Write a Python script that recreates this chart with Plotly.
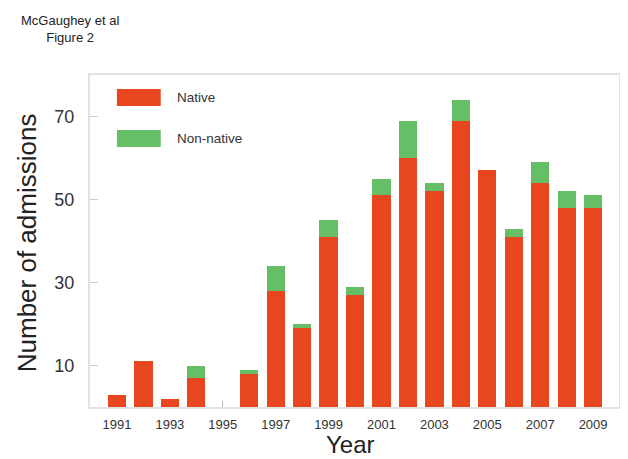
import plotly.graph_objects as go

years = list(range(1991, 2010))
native = [3, 11, 2, 7, 0, 8, 28, 19, 41, 27, 51, 60, 52, 69, 57, 41, 54, 48, 48]
non_native = [0, 0, 0, 3, 0, 1, 6, 1, 4, 2, 4, 9, 2, 5, 0, 2, 5, 4, 3]
y_ticks = [10, 30, 50, 70]
x_ticks = [1991, 1993, 1995, 1997, 1999, 2001, 2003, 2005, 2007, 2009]

RED = "#E8461F"
GREEN = "#66BF66"
FONT = "Liberation Sans, Arial, Helvetica, sans-serif"

# plot area in page pixels (page has an 8px body margin)
PL, PT, PR, PB = 90, 75, 621, 407
PW, PH = PR - PL, PB - PT

def px(x):
    return (x - PL) / PW

def py(y):
    return (PB - y) / PH

fig = go.Figure()
fig.add_trace(go.Bar(x=years, y=native, name="Native", marker=dict(color=RED, line=dict(width=0))))
fig.add_trace(go.Bar(x=years, y=non_native, name="Non-native", marker=dict(color=GREEN, line=dict(width=0))))

fig.update_layout(
    width=620, height=451,
    margin=dict(l=PL - 8, r=620 - (PR - 8), t=PT - 8, b=451 - (PB - 8)),
    barmode="stack", bargap=0.31,
    showlegend=False,
    paper_bgcolor="white", plot_bgcolor="white",
    font=dict(family=FONT, color="#333"),
)
fig.update_xaxes(
    range=[1989.98, 2009.98], tickvals=x_ticks, ticktext=[str(v) for v in x_ticks],
    ticks="inside", ticklen=6, tickcolor="#bbb", tickwidth=1,
    showline=True, mirror=True, linecolor="#e3e3e3", linewidth=2,
    showgrid=False, zeroline=False, layer="below traces",
    tickfont=dict(size=13, color="#333", family=FONT), ticklabelstandoff=4,
)
fig.update_yaxes(
    range=[0, 80], tickvals=y_ticks, ticktext=[str(v) for v in y_ticks],
    ticks="inside", ticklen=8, tickcolor="#ccc", tickwidth=1,
    showline=True, mirror=True, linecolor="#e3e3e3", linewidth=2,
    showgrid=False, zeroline=False, layer="below traces",
    tickfont=dict(size=18, color="#333", family=FONT), ticklabelstandoff=10,
)

# legend swatches and labels
legend_items = [("Native", RED, 97.5), ("Non-native", GREEN, 138.5)]
for label, color, yc in legend_items:
    fig.add_shape(type="rect", xref="paper", yref="paper",
                  x0=px(117), x1=px(161), y0=py(yc + 8.5), y1=py(yc - 8.5),
                  fillcolor=color, line=dict(width=0))
    fig.add_annotation(text=label, xref="paper", yref="paper",
                       x=px(175), y=py(yc),
                       xanchor="left", yanchor="middle", showarrow=False,
                       font=dict(size=13.5, color="#333", family=FONT))

# axis titles
fig.add_annotation(text="Number of admissions", xref="paper", yref="paper",
                   x=px(27), y=py(243), textangle=-90, showarrow=False,
                   xanchor="center", yanchor="middle",
                   font=dict(size=26, color="#222", family=FONT))
fig.add_annotation(text="Year", xref="paper", yref="paper",
                   x=px(351), y=py(444), showarrow=False,
                   xanchor="center", yanchor="middle",
                   font=dict(size=24, color="#222", family=FONT))
# header
fig.add_annotation(text="McGaughey et al<br>Figure 2", xref="paper", yref="paper",
                   x=px(70), y=py(29), showarrow=False,
                   xanchor="center", yanchor="middle", align="center",
                   font=dict(size=13, color="#222", family=FONT))

fig.write_html("out.html")
